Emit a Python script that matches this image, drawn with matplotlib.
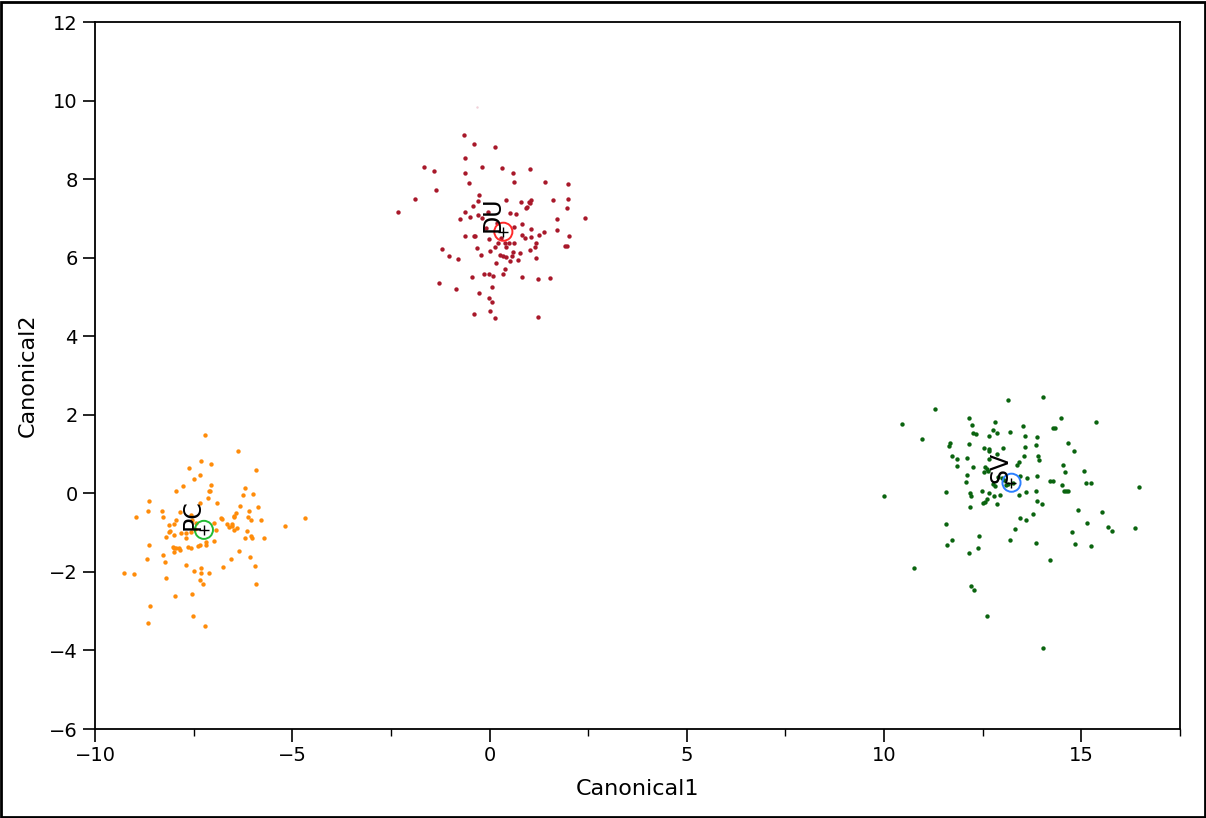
"""Canonical plot: three groups (DU, PC, SV) in canonical space,
with group means drawn as open circles."""

import matplotlib
matplotlib.use('Agg')
import matplotlib.pyplot as plt
from matplotlib.patches import Rectangle
from matplotlib.ticker import MultipleLocator

# DU group (dark red)
du_x = [-0.65, -0.39, 0.13, -0.63, -1.65, -1.40, -0.18, 0.31, 0.59, 1.02,
        -0.63, -0.51, 0.63, 1.40, 2.00, -1.36, -1.89, -2.33, -0.28, -0.29,
        -0.42, 0.42, 0.80, 0.96, 1.00, 1.06, 0.92, 1.02, 1.61, 1.99,
        1.96, 2.41, -0.63, -0.75, -0.50, -0.29, -0.03, 0.51, 0.66, -0.20,
        -0.10, 0.18, 0.62, 0.82, 1.71, 1.70, 1.05, 1.37, -0.61, -0.40,
        -0.37, -0.02, 0.29, 0.83, 0.91, 1.04, 1.25, 2.01, 1.91, 1.96,
        1.19, 1.15, 1.02, -1.21, -0.32, 0.13, 0.21, 0.40, 0.50, 0.63,
        0.41, 0.60, 0.77, -1.04, -0.80, -0.21, 0.00, 0.26, 0.34, 0.41,
        0.56, 0.53, 0.71, 0.16, 1.19, 0.38, -0.15, -0.02, 0.10, 0.35,
        -0.45, 0.82, 1.23, 1.52, -1.28, -0.85, 0.06, -0.27, -0.01, 0.06,
        0.02, -0.40, 0.15, 1.23]
du_y = [9.12, 8.89, 8.83, 8.54, 8.31, 8.21, 8.30, 8.28, 8.16, 8.25,
        8.16, 7.90, 7.93, 7.92, 7.88, 7.72, 7.50, 7.16, 7.60, 7.44,
        7.32, 7.46, 7.41, 7.30, 7.43, 7.46, 7.27, 7.38, 7.47, 7.49,
        7.27, 7.00, 7.16, 6.99, 7.04, 7.09, 7.16, 7.15, 7.11, 7.00,
        6.76, 6.88, 6.79, 6.86, 6.99, 6.70, 6.74, 6.66, 6.54, 6.54,
        6.55, 6.47, 6.49, 6.58, 6.49, 6.53, 6.57, 6.55, 6.30, 6.30,
        6.38, 6.26, 6.19, 6.23, 6.25, 6.27, 6.37, 6.38, 6.37, 6.37,
        6.26, 6.15, 6.13, 6.05, 5.97, 6.06, 6.18, 6.06, 6.04, 6.02,
        6.05, 5.92, 5.93, 5.87, 6.00, 5.71, 5.59, 5.58, 5.53, 5.58,
        5.52, 5.50, 5.46, 5.47, 5.36, 5.21, 5.25, 5.09, 4.97, 4.87,
        4.65, 4.56, 4.46, 4.48]

# PC group (orange)
pc_x = [-7.20, -6.37, -7.32, -7.05, -5.92, -7.62, -7.33, -7.48, -7.05, -7.77,
        -7.94, -7.10, -7.08, -6.21, -6.00, -6.24, -7.14, -7.33, -6.90, -8.63,
        -8.66, -8.31, -7.85, -6.32, -5.88, -6.42, -6.48, -6.47, -6.09, -6.11,
        -6.05, -5.80, -8.95, -8.27, -7.58, -7.96, -6.81, -6.77, -6.66, -6.60,
        -6.54, -6.48, -6.40, -6.53, -6.98, -5.19, -4.69, -8.01, -8.13, -8.09,
        -8.01, -8.21, -8.13, -7.83, -7.70, -7.58, -7.46, -7.43, -7.53, -6.93,
        -6.16, -6.20, -6.04, -6.02, -5.71, -7.69, -7.19, -7.19, -6.98, -7.34,
        -7.39, -8.64, -8.02, -7.94, -7.88, -7.84, -8.00, -7.65, -7.58, -8.01,
        -6.35, -8.28, -8.68, -8.22, -6.56, -6.06, -7.70, -6.75, -5.94, -7.32,
        -7.49, -7.32, -7.12, -9.26, -9.01, -8.20, -7.34, -7.27, -5.92, -7.54,
        -7.98, -8.60, -7.52, -8.65, -7.20]
pc_y = [1.49, 1.08, 0.82, 0.74, 0.59, 0.64, 0.47, 0.37, 0.22, 0.19,
        0.07, 0.05, 0.07, 0.14, -0.01, -0.05, -0.13, -0.24, -0.24, -0.19,
        -0.46, -0.44, -0.47, -0.31, -0.35, -0.49, -0.57, -0.60, -0.46, -0.59,
        -0.68, -0.69, -0.61, -0.60, -0.55, -0.67, -0.63, -0.65, -0.79, -0.85,
        -0.84, -0.93, -0.87, -0.77, -0.75, -0.82, -0.62, -0.79, -0.80, -0.95,
        -1.06, -1.10, -0.99, -1.01, -1.02, -0.98, -0.91, -0.75, -0.69, -0.93,
        -0.96, -1.13, -1.08, -1.14, -1.13, -1.14, -1.23, -1.31, -1.21, -1.32,
        -1.33, -1.31, -1.36, -1.38, -1.39, -1.44, -1.40, -1.36, -1.39, -1.50,
        -1.48, -1.58, -1.68, -1.75, -1.67, -1.63, -1.83, -1.87, -1.84, -1.90,
        -1.99, -2.04, -2.02, -2.03, -2.06, -2.15, -2.20, -2.31, -2.32, -2.56,
        -2.61, -2.88, -3.12, -3.29, -3.38]

# SV group (dark green)
sv_x = [13.14, 14.04, 11.28, 10.45, 12.15, 12.24, 12.81, 13.52, 14.27, 14.33,
        14.49, 15.36, 10.97, 12.26, 12.34, 12.77, 12.85, 12.66, 13.18, 13.57,
        13.87, 11.67, 11.64, 12.15, 12.53, 12.66, 12.65, 12.86, 13.02, 13.58,
        13.84, 14.65, 14.82, 11.71, 11.86, 12.11, 12.66, 13.54, 13.89, 13.92,
        13.43, 13.38, 14.54, 11.84, 12.26, 12.56, 12.60, 12.54, 12.63, 14.59,
        15.08, 12.10, 12.88, 12.99, 13.05, 13.45, 13.62, 13.88, 14.20, 14.28,
        12.08, 12.75, 12.80, 13.09, 13.15, 13.28, 14.52, 15.12, 15.25, 14.55,
        14.60, 14.65, 16.47, 10.01, 11.57, 12.17, 12.21, 12.47, 12.65, 12.79,
        12.94, 13.41, 13.60, 13.86, 12.52, 12.55, 12.61, 12.85, 12.18, 13.87,
        14.01, 13.77, 14.91, 15.52, 13.44, 13.59, 15.14, 15.67, 15.77, 16.36,
        11.58, 13.33, 14.76, 12.40, 11.73, 13.19, 13.86, 14.84, 15.25, 11.59,
        12.38, 12.16, 14.20, 10.77, 12.20, 12.29, 12.61, 14.03]
sv_y = [2.38, 2.46, 2.14, 1.77, 1.91, 1.73, 1.81, 1.72, 1.67, 1.67,
        1.91, 1.81, 1.38, 1.53, 1.50, 1.60, 1.53, 1.46, 1.55, 1.47,
        1.44, 1.29, 1.21, 1.25, 1.15, 1.13, 1.07, 1.01, 1.16, 1.18,
        1.22, 1.27, 1.08, 0.96, 0.88, 0.90, 0.88, 0.94, 0.96, 0.86,
        0.80, 0.73, 0.73, 0.69, 0.67, 0.66, 0.63, 0.55, 0.56, 0.55,
        0.57, 0.46, 0.42, 0.39, 0.34, 0.43, 0.38, 0.44, 0.32, 0.32,
        0.28, 0.23, 0.18, 0.21, 0.23, 0.27, 0.20, 0.27, 0.26, 0.06,
        0.06, 0.07, 0.16, -0.06, 0.04, 0.01, -0.06, 0.06, 0.02, -0.07,
        -0.03, -0.05, 0.04, 0.07, -0.24, -0.21, -0.14, -0.26, -0.35, -0.19,
        -0.28, -0.52, -0.42, -0.47, -0.63, -0.69, -0.75, -0.85, -0.95, -0.88,
        -0.79, -0.92, -0.99, -1.08, -1.18, -1.19, -1.27, -1.29, -1.33, -1.31,
        -1.40, -1.53, -1.70, -1.90, -2.37, -2.46, -3.12, -3.94]

# group means and labels
group_names = ['DU', 'PC', 'SV']
mean_x = [0.35, -7.24, 13.23]
mean_y = [6.66, -0.93, 0.27]
point_colors = ['#a8182a', '#ff8c0a', '#0a640f']
circle_colors = ['#ff2a2a', '#22bb33', '#2a7fff']

# excluded row (faint)
hidden_x = [-0.31]
hidden_y = [9.84]

plt.rcParams['font.family'] = ['DejaVu Sans']
fig = plt.figure(figsize=(12.06, 8.18), dpi=100)
ax = fig.add_axes([0.0788, 0.1088, 0.8996, 0.8643])

groups = [(du_x, du_y), (pc_x, pc_y), (sv_x, sv_y)]
for (gx, gy), col in zip(groups, point_colors):
    ax.scatter(gx, gy, s=10, color=col, linewidths=0, zorder=2)

ax.scatter(hidden_x, hidden_y, s=3, color='#f0d0d8', linewidths=0, zorder=1)

for name, mx, my, pcol, ccol in zip(group_names, mean_x, mean_y,
                                    point_colors, circle_colors):
    ax.scatter([mx], [my], s=170, facecolors='none', edgecolors=ccol,
               linewidths=1.4, zorder=3)
    ax.scatter([mx], [my], s=45, marker='+', color='black',
               linewidths=1.0, zorder=4)
    ax.text(mx + 0.02, my, name, rotation=90, ha='right', va='bottom',
            fontsize=17, color='black', zorder=5)

ax.set_xlim(-10, 17.5)
ax.set_ylim(-6, 12)
ax.xaxis.set_major_locator(MultipleLocator(5))
ax.xaxis.set_minor_locator(MultipleLocator(2.5))
ax.yaxis.set_major_locator(MultipleLocator(2))
ax.tick_params(axis='both', which='major', direction='out', length=9,
               width=1.2, labelsize=14, colors='black')
ax.tick_params(axis='x', which='minor', direction='out', length=5, width=1.0)
ax.tick_params(top=False, right=False)
for sp in ax.spines.values():
    sp.set_linewidth(1.3)
    sp.set_color('black')

ax.set_xlabel('Canonical1', fontsize=16, labelpad=10)
ax.set_ylabel('Canonical2', fontsize=16, labelpad=8)

fig.patches.append(Rectangle((0.001, 0.001), 0.998, 0.997,
                             transform=fig.transFigure, fill=False,
                             edgecolor='black', linewidth=2))

fig.savefig('out.png', dpi=100)
